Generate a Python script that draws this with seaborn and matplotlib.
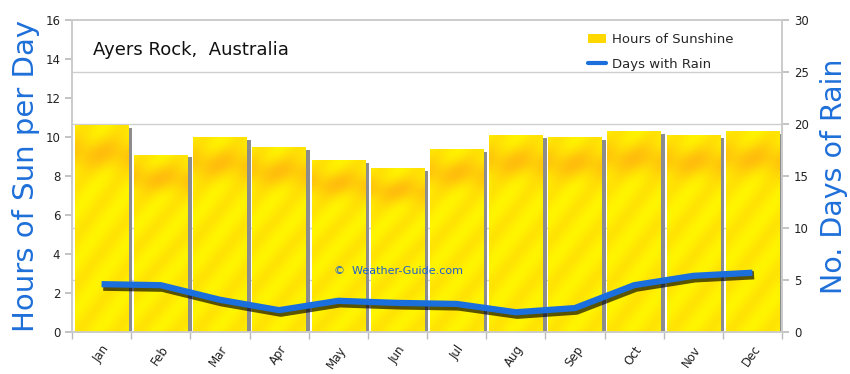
import numpy as np
import pandas as pd
import matplotlib
matplotlib.use("Agg")
import matplotlib.pyplot as plt
import matplotlib.patheffects as pe
from matplotlib.patches import Patch, Rectangle
from matplotlib.lines import Line2D
import seaborn as sns

months = ["Jan", "Feb", "Mar", "Apr", "May", "Jun",
          "Jul", "Aug", "Sep", "Oct", "Nov", "Dec"]
sun_hours = [10.6, 9.1, 10.0, 9.5, 8.8, 8.4, 9.4, 10.1, 10.0, 10.3, 10.1, 10.3]
rain_days = [4.6, 4.5, 3.1, 2.1, 3.0, 2.8, 2.7, 1.9, 2.3, 4.5, 5.4, 5.7]
left_ticks = list(range(0, 17, 2))
right_ticks = list(range(0, 31, 5))
title = "Ayers Rock,  Australia"

sns.set_theme(style="white")
plt.rcParams['font.family'] = ['DejaVu Sans']

df = pd.DataFrame({"Month": months, "Sun": sun_hours, "Rain": rain_days})

fig = plt.figure(figsize=(8.5, 3.74), dpi=100)
ax = fig.add_axes([72 / 850, 42 / 374, 710 / 850, 312 / 374])

sns.barplot(data=df, x="Month", y="Sun", ax=ax, color="#FFF200",
            saturation=1, width=0.9, edgecolor="none", zorder=3)
ax.set_xlim(-0.5, 11.5)
ax.set_ylim(0, 16)

# textured fill + shadow for each bar
yy, xx = np.mgrid[0:120, 0:30]
streak = 0.5 + 0.5 * np.sin((xx * 0.3 + yy * 0.22))
band = np.exp(-((yy - 16) / 9.0) ** 2) * 0.7
mix = np.clip(0.3 * streak + band, 0, 1)
yellow = np.array([1.0, 0.96, 0.0])
orange = np.array([1.0, 0.74, 0.05])
tex = yellow[None, None, :] * (1 - mix[..., None]) + orange[None, None, :] * mix[..., None]
for p in list(ax.patches):
    x0, w, h = p.get_x(), p.get_width(), p.get_height()
    ax.add_patch(Rectangle((x0 + w, 0), 0.07, h - 0.15, facecolor="#8c8c8c",
                           edgecolor="none", zorder=2.5))
    im = ax.imshow(tex, extent=(x0, x0 + w, 0, h), aspect="auto",
                   origin="upper", zorder=3.1, interpolation="bilinear")
    im.set_clip_path(p)
ax.set_xlim(-0.5, 11.5)
ax.set_ylim(0, 16)

ax.set_yticks(left_ticks)
ax.set_yticklabels([str(t) for t in left_ticks], fontsize=8.5, color="#222222")
ax.set_yticks([t * 16 / 30 for t in right_ticks], minor=True)
ax.grid(True, which="minor", axis="y", color="#cfcfcf", lw=1, zorder=0)
ax.grid(False, which="major")
ax.set_axisbelow(True)

ax.set_xticks(range(12))
ax.set_xticklabels(months, rotation=55, fontsize=8.5, color="#222222",
                   ha="right", rotation_mode="anchor")
ax.set_xticks(np.arange(-0.5, 12, 1), minor=True)
ax.tick_params(axis="x", which="major", length=0, pad=8)
ax.tick_params(axis="x", which="minor", length=5, color="#bbbbbb", bottom=True)
ax.tick_params(axis="y", which="major", length=5, color="#bbbbbb", left=True)
ax.tick_params(axis="y", which="minor", length=0)
for s in ax.spines.values():
    s.set_color("#cccccc")
ax.set_xlabel("")
ax.set_ylabel("Hours of Sun per Day", fontsize=21, color="#1e6fd9", labelpad=4)

ax2 = ax.twinx()
sns.lineplot(data=df, x="Month", y="Rain", ax=ax2, color="#1a6fdc", lw=4.5,
             sort=False, solid_capstyle="butt",
             path_effects=[pe.SimpleLineShadow(offset=(1.2, -1.8), shadow_color="black",
                                               alpha=0.65, linewidth=6),
                           pe.Normal()])
ax2.set_ylim(0, 30)
ax2.set_xlim(-0.5, 11.5)
ax2.set_yticks(right_ticks)
ax2.set_yticklabels([str(t) for t in right_ticks], fontsize=8.5, color="#222222")
ax2.tick_params(axis="y", length=5, color="#bbbbbb", right=True)
for s in ax2.spines.values():
    s.set_color("#cccccc")
ax2.set_ylabel("No. Days of Rain", fontsize=20.5, color="#1e6fd9", labelpad=8)
ax2.set_xlabel("")

ax.text(0.03, 0.905, title, transform=ax.transAxes, fontsize=13,
        color="#111111", va="center", ha="left", zorder=10)
ax.text(0.46, 0.195, "\u00a9  Weather-Guide.com", transform=ax.transAxes,
        fontsize=8, color="#1e5fcf", va="center", ha="center", zorder=10)

handles = [Patch(facecolor="#FFD800", edgecolor="none"),
           Line2D([0], [0], color="#1a6fdc", lw=3)]
ax2.legend(handles, ["Hours of Sunshine", "Days with Rain"], loc="upper left",
           bbox_to_anchor=(0.71, 0.995), frameon=False, fontsize=9.5,
           handlelength=1.4, handletextpad=0.4, labelspacing=0.85)

fig.savefig("out.png", dpi=100)
